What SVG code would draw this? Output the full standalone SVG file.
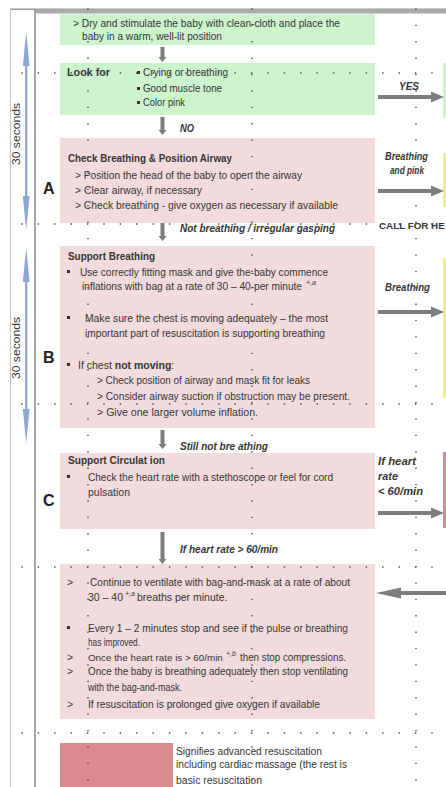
<svg xmlns="http://www.w3.org/2000/svg" width="446" height="787" viewBox="0 0 446 787">
<defs>
<style>
text{font-family:"Liberation Sans",Arial,sans-serif;font-size:10.5px;fill:#363636}
.b{font-weight:bold}
.bi{font-weight:bold;font-style:italic}
.sup{font-size:7px;font-style:italic}
.big{font-size:16px;font-weight:bold;fill:#222}
.green{fill:#cdf4cd}
.pink{fill:#f1dbdc}
.dark{fill:#d98b8f}
.yellow{fill:#f6ef7c}
.grid{stroke:#4a4a4a;stroke-width:1.4;stroke-dasharray:1.4 15;fill:none}
.arr{fill:#7d7d7d}
.blue{fill:#8fa7d1}
.dot{fill:#333}
</style>
</defs>
<rect width="446" height="787" fill="#fff"/>

<g id="frame">
<rect x="10" y="8.5" width="436" height="1.5" fill="#9a9a9a"/>
<rect x="35" y="9" width="411" height="4.5" fill="#ababab"/>
<line x1="10.5" y1="9" x2="10.5" y2="787" stroke="#c4c4c4"/>
<line x1="35" y1="9" x2="35" y2="787" stroke="#8a8a8a" stroke-width="1.5"/>
</g>

<g id="timer-1">
<rect x="25" y="60" width="2.4" height="140" class="blue"/>
<polygon points="26.2,32 22.8,66 29.6,66" class="blue"/>
<polygon points="26.2,230 22.8,196 29.6,196" class="blue"/>
<text transform="translate(20,134) rotate(-90)" text-anchor="middle" textLength="62" lengthAdjust="spacingAndGlyphs">30 seconds</text>
</g>
<g id="timer-2">
<rect x="25" y="276" width="2.4" height="140" class="blue"/>
<polygon points="26.2,248 22.8,282 29.6,282" class="blue"/>
<polygon points="26.2,443 22.8,409 29.6,409" class="blue"/>
<text transform="translate(20,348) rotate(-90)" text-anchor="middle" textLength="62" lengthAdjust="spacingAndGlyphs">30 seconds</text>
</g>

<g id="label-A"><text x="43" y="194" class="big">A</text></g>
<g id="label-B"><text x="43" y="363" class="big">B</text></g>
<g id="label-C"><text x="43" y="506" class="big">C</text></g>

<g id="dry-stimulate">
<rect x="60" y="14" width="315" height="31" class="green"/>
<text x="73" y="27" textLength="267" lengthAdjust="spacingAndGlyphs">&gt; Dry and stimulate the baby with clean-cloth and place the</text>
<text x="82" y="40" textLength="140" lengthAdjust="spacingAndGlyphs">baby in a warm, well-lit position</text>
</g>

<g id="look-for">
<rect x="60" y="63" width="315" height="52" class="green"/>
<text x="67" y="76" class="b" textLength="43" lengthAdjust="spacingAndGlyphs">Look for</text>
<rect x="137" y="71" width="3" height="3" class="dot"/>
<rect x="137" y="87" width="3" height="3" class="dot"/>
<rect x="137" y="101" width="3" height="3" class="dot"/>
<text x="143" y="76" textLength="85" lengthAdjust="spacingAndGlyphs">Crying or breathing</text>
<text x="143" y="92" textLength="79" lengthAdjust="spacingAndGlyphs">Good muscle tone</text>
<text x="143" y="106" textLength="42" lengthAdjust="spacingAndGlyphs">Color pink</text>
</g>

<g id="airway-A">
<rect x="60" y="138" width="315" height="85" class="pink"/>
<text x="68" y="162" class="b" textLength="164" lengthAdjust="spacingAndGlyphs">Check Breathing &amp; Position Airway</text>
<text x="75" y="179" textLength="227" lengthAdjust="spacingAndGlyphs">&gt; Position the head of the baby to open the airway</text>
<text x="75" y="194" textLength="127" lengthAdjust="spacingAndGlyphs">&gt; Clear airway, if necessary</text>
<text x="75" y="209" textLength="263" lengthAdjust="spacingAndGlyphs">&gt; Check breathing - give oxygen as necessary  if available</text>
</g>

<g id="breathing-B">
<rect x="60" y="246" width="315" height="182" class="pink"/>
<text x="68" y="260" class="b" textLength="87" lengthAdjust="spacingAndGlyphs">Support Breathing</text>
<rect x="67" y="270" width="3" height="3" class="dot"/>
<rect x="67" y="316" width="3" height="3" class="dot"/>
<rect x="67" y="363" width="3" height="3" class="dot"/>
<text x="80" y="276" textLength="248" lengthAdjust="spacingAndGlyphs">Use correctly fitting mask and give the-baby commence</text>
<text x="82" y="290" style="font-size:10px" textLength="220" lengthAdjust="spacingAndGlyphs">inflations with bag at a rate of 30 – 40-per minute</text>
<text x="306" y="285" class="sup">+,a</text>
<text x="85" y="322" textLength="243" lengthAdjust="spacingAndGlyphs">Make sure the chest is moving adequately – the most</text>
<text x="85" y="337" textLength="240" lengthAdjust="spacingAndGlyphs">important part of resuscitation is supporting breathing</text>
<text x="78" y="369">If chest <tspan class="b">not moving</tspan>:</text>
<text x="97" y="384" textLength="213" lengthAdjust="spacingAndGlyphs">&gt; Check position of airway and mask fit for leaks</text>
<text x="97" y="400" textLength="253" lengthAdjust="spacingAndGlyphs">&gt; Consider airway suction if obstruction may be present.</text>
<text x="97" y="416" textLength="161" lengthAdjust="spacingAndGlyphs">&gt; Give one larger volume inflation.</text>
</g>

<g id="circulation-C">
<rect x="60" y="453" width="315" height="76" class="pink"/>
<text x="68" y="464" class="b" textLength="97" lengthAdjust="spacingAndGlyphs">Support Circulat ion</text>
<rect x="67" y="475" width="3" height="3" class="dot"/>
<text x="88" y="481" textLength="245" lengthAdjust="spacingAndGlyphs">Check the heart rate with a stethoscope or feel for cord</text>
<text x="88" y="496" textLength="42" lengthAdjust="spacingAndGlyphs">pulsation</text>
</g>

<g id="ventilate-D">
<rect x="60" y="564" width="315" height="155" class="pink"/>
<text x="67" y="586">&gt;</text>
<text x="90" y="586" textLength="260" lengthAdjust="spacingAndGlyphs">Continue to ventilate with bag-and-mask at a rate of about</text>
<text x="88" y="601">30 – 40</text>
<text x="125" y="596" class="sup">+,a</text>
<text x="137" y="601">breaths per minute.</text>
<rect x="67" y="626" width="3" height="3" class="dot"/>
<text x="88" y="632" textLength="260" lengthAdjust="spacingAndGlyphs">Every 1 – 2 minutes stop and see if the pulse or breathing</text>
<text x="88" y="646" textLength="52" lengthAdjust="spacingAndGlyphs">has improved.</text>
<text x="67" y="661">&gt;</text>
<text x="88" y="661" style="font-size:9.8px">Once the heart rate is &gt; 60/min</text>
<text x="226" y="656" class="sup">+,b</text>
<text x="240" y="661" textLength="106" lengthAdjust="spacingAndGlyphs">then stop compressions.</text>
<text x="67" y="675">&gt;</text>
<text x="88" y="675" textLength="260" lengthAdjust="spacingAndGlyphs">Once the baby is breathing adequately then stop ventilating</text>
<text x="88" y="691" textLength="94" lengthAdjust="spacingAndGlyphs">with the bag-and-mask.</text>
<text x="67" y="708">&gt;</text>
<text x="88" y="708" textLength="232" lengthAdjust="spacingAndGlyphs">If resuscitation is prolonged give oxygen if available</text>
</g>

<g id="legend">
<rect x="60" y="743" width="113" height="44" class="dark"/>
<text x="176" y="755" textLength="146" lengthAdjust="spacingAndGlyphs">Signifies advanced resuscitation</text>
<text x="176" y="768" textLength="171" lengthAdjust="spacingAndGlyphs">including cardiac massage (the rest is</text>
<text x="176" y="784" textLength="86" lengthAdjust="spacingAndGlyphs">basic resuscitation</text>
</g>

<g id="out-yes"><rect x="443" y="63" width="3" height="55" class="green"/></g>
<g id="out-breathing-pink"><rect x="443" y="153" width="3" height="54" class="yellow"/></g>
<g id="out-breathing"><rect x="443" y="258" width="3" height="140" class="yellow"/></g>
<g id="out-heart"><rect x="443" y="452" width="3" height="76" class="dark"/></g>
<g id="call-help"><text x="379" y="229" class="b" style="font-size:9.8px">CALL FOR HE</text></g>

<g id="grid">
<line x1="21.3" y1="73" x2="446" y2="73" class="grid"/>
<line x1="21.3" y1="224" x2="446" y2="224" class="grid"/>
<line x1="21.3" y1="404" x2="446" y2="404" class="grid"/>
<line x1="21.3" y1="567" x2="446" y2="567" class="grid"/>
<line x1="21.3" y1="733" x2="446" y2="733" class="grid"/>
<line x1="88" y1="8.3" x2="88" y2="787" class="grid"/>
<line x1="252" y1="8.3" x2="252" y2="787" class="grid"/>
<line x1="416" y1="8.3" x2="416" y2="787" class="grid"/>
</g>

<g id="connectors">
<polygon class="arr" points="160.5,47 164.5,47 164.5,57 166.5,57 162.5,62 158.5,57 160.5,57"/>
<polygon class="arr" points="160.5,117 164.5,117 164.5,130 166.5,130 162.5,135 158.5,130 160.5,130"/>
<polygon class="arr" points="160.5,223 164.5,223 164.5,236 166.5,236 162.5,241 158.5,236 160.5,236"/>
<polygon class="arr" points="160.5,430 164.5,430 164.5,444 166.5,444 162.5,449 158.5,444 160.5,444"/>
<polygon class="arr" points="160.5,532 164.5,532 164.5,559 166.5,559 162.5,564 158.5,559 160.5,559"/>
<text x="180" y="132" class="bi" textLength="14" lengthAdjust="spacingAndGlyphs">NO</text>
<text x="180" y="232" class="bi" textLength="155" lengthAdjust="spacingAndGlyphs">Not breathing / irregular gasping</text>
<text x="180" y="450" class="bi" textLength="88" lengthAdjust="spacingAndGlyphs">Still not bre athing</text>
<text x="180" y="553" class="bi" textLength="98" lengthAdjust="spacingAndGlyphs">If heart rate &gt; 60/min</text>

<polygon class="arr" points="378,95 431,95 431,91.5 444,97 431,102.5 431,99 378,99"/>
<text x="399" y="90" class="bi" textLength="20" lengthAdjust="spacingAndGlyphs">YES</text>
<polygon class="arr" points="378,189 431,189 431,185.5 444,191 431,196.5 431,193 378,193"/>
<text x="385" y="160" class="bi" textLength="43" lengthAdjust="spacingAndGlyphs">Breathing</text>
<text x="390" y="174" class="bi" textLength="34" lengthAdjust="spacingAndGlyphs">and pink</text>
<polygon class="arr" points="378,310 431,310 431,306.5 444,312 431,317.5 431,314 378,314"/>
<text x="385" y="291" class="bi" textLength="45" lengthAdjust="spacingAndGlyphs">Breathing</text>
<polygon class="arr" points="378,511 431,511 431,507.5 444,513 431,518.5 431,515 378,515"/>
<text x="378" y="465" class="bi" textLength="38" lengthAdjust="spacingAndGlyphs">If heart</text>
<text x="378" y="480" class="bi" textLength="20" lengthAdjust="spacingAndGlyphs">rate</text>
<text x="378" y="495" class="bi" textLength="45" lengthAdjust="spacingAndGlyphs">&lt; 60/min</text>
<polygon class="arr" points="446,591 401,591 401,587.5 376,593 401,598.5 401,595 446,595"/>
</g>
</svg>
